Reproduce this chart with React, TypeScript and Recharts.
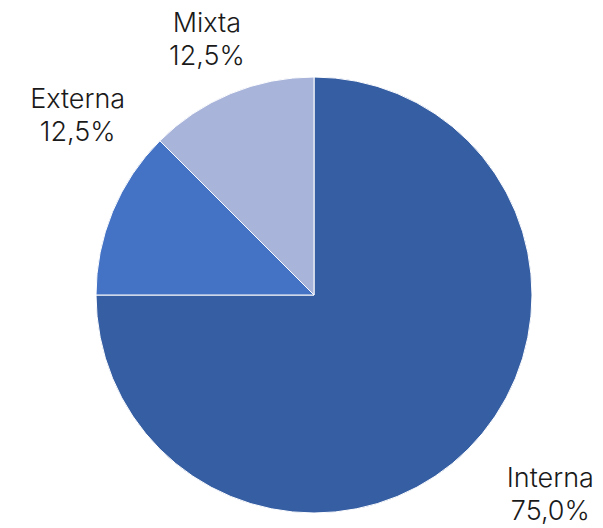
import type { FC } from 'react';
import { Cell, Pie, PieChart } from 'recharts';

const names = ['Interna', 'Externa', 'Mixta'];
const shares = [75.0, 12.5, 12.5];
const colors = ['#365ea3', '#4472c4', '#a8b4da'];

const data = names.map((name, i) => ({ name, value: shares[i] }));

// nudges so labels sit where the original placed them (best-fit style)
const labelNudge: Record<string, { dx: number; dy: number }> = {
  Interna: { dx: 44, dy: 6 },
  Externa: { dx: 15, dy: -77 },
  Mixta: { dx: -3, dy: -6 },
};

const RAD = Math.PI / 180;

const renderLabel = (props: any) => {
  const { cx, cy, midAngle, outerRadius, name, value } = props;
  const r = outerRadius + 54;
  const n = labelNudge[name] ?? { dx: 0, dy: 0 };
  const x = cx + r * Math.cos(-midAngle * RAD) + n.dx;
  const y = cy + r * Math.sin(-midAngle * RAD) + n.dy;
  return (
    <text x={x} y={y} textAnchor='middle' fill='#1a1a1a' fontSize={27} fontFamily='Inter, sans-serif' fontWeight={300}>
      <tspan x={x} dy={-6}>{name}</tspan>
      <tspan x={x} dy={33}>{`${value.toFixed(1).replace('.', ',')}%`}</tspan>
    </text>
  );
};

const App: FC = () => (
  <div style={{ position: 'absolute', left: 0, top: 0, background: '#fff' }}>
    <PieChart width={603} height={528} margin={{ top: 0, right: 0, bottom: 0, left: 0 }}>
      <Pie
        data={data}
        dataKey='value'
        nameKey='name'
        cx={314}
        cy={295}
        outerRadius={218}
        startAngle={90}
        endAngle={-270}
        stroke='#ffffff'
        strokeWidth={1}
        label={renderLabel}
        labelLine={false}
        isAnimationActive={false}
      >
        {data.map((d, i) => (
          <Cell key={d.name} fill={colors[i]} />
        ))}
      </Pie>
    </PieChart>
  </div>
);

export default App;
